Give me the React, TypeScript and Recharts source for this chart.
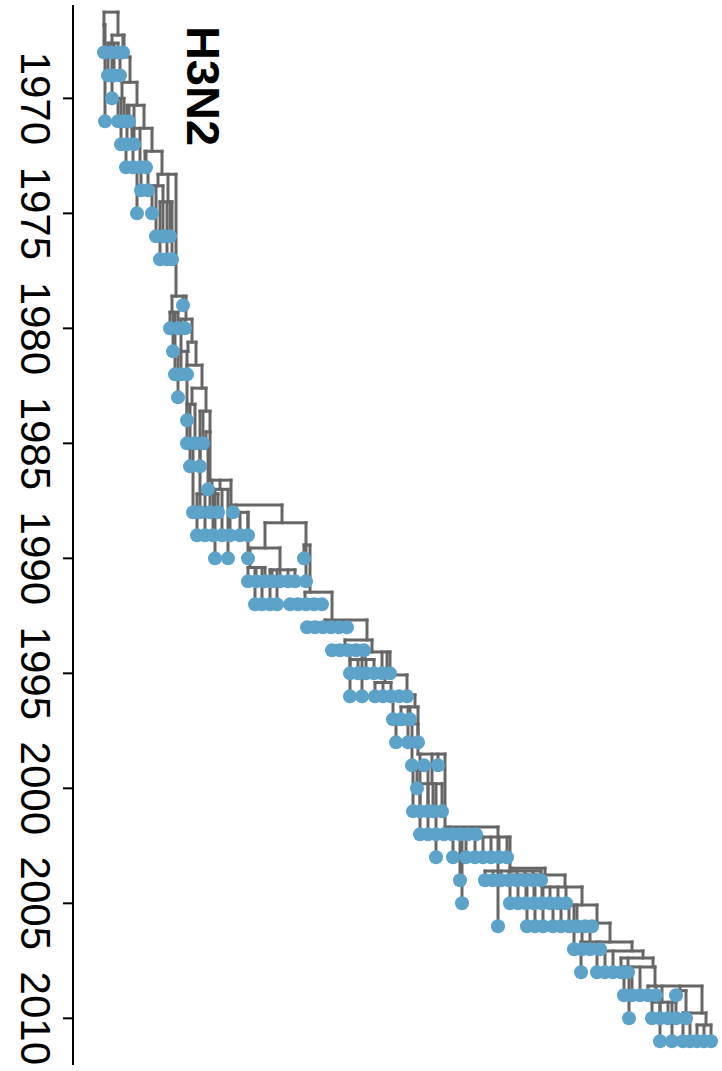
import { ReferenceLine, Scatter, ScatterChart, XAxis, YAxis } from 'recharts';

const yearTicks = [1970, 1975, 1980, 1985, 1990, 1995, 2000, 2005, 2010];

// trunk of the tree: [id, parent, x position, year]
const trunkNodes: [string, string | null, number, number][] = [
  ['t0', null, 109, 1966.25],
  ['t1', 't0', 118, 1967.25],
  ['t2', 't1', 124, 1968.2],
  ['t3', 't2', 130, 1969.3],
  ['t4', 't3', 137, 1970.3],
  ['t5', 't4', 144, 1971.3],
  ['t6', 't5', 152, 1972.3],
  ['t7', 't6', 162, 1973.3],
  ['t8', 't7', 176, 1978.6],
  ['t9', 't8', 186, 1979.6],
  ['t10', 't9', 192, 1980.6],
  ['t11', 't10', 196, 1981.6],
  ['t12', 't11', 202, 1982.6],
  ['t13', 't12', 206, 1983.6],
  ['t14', 't13', 210, 1984.5],
  ['t15', 't14', 210, 1986.6],
  ['t16', 't15', 231, 1987.68],
  ['t17', 't16', 282, 1988.45],
  ['t18', 't17', 306, 1989.42],
  ['t19', 't18', 310, 1991.47],
  ['t20', 't19', 332, 1992.68],
  ['t21', 't20', 367, 1993.55],
  ['t22', 't21', 372, 1994.07],
  ['t23', 't22', 387, 1995.07],
  ['t24', 't23', 407, 1995.94],
  ['t25', 't24', 415, 1996.46],
  ['t26', 't25', 418, 1998.51],
  ['t27', 't26', 445, 2001.68],
  ['t28', 't27', 498, 2002.12],
  ['t29', 't28', 510, 2003.47],
  ['t30', 't29', 545, 2003.77],
  ['t31', 't30', 565, 2004.29],
  ['t32', 't31', 582, 2005.07],
  ['t33', 't32', 597, 2005.86],
  ['t34', 't33', 610, 2006.68],
  ['t35', 't34', 632, 2007.07],
  ['t36', 't35', 643, 2007.38],
  ['t37', 't36', 653, 2007.77],
  ['t38', 't37', 655, 2008.6],
  ['t39', 't38', 702, 2009.77],
  ['t40', 't39', 706, 2010.29],
];

// side clades hanging off the trunk
const cladeNodes: [string, string, number, number][] = [
  ['a', 't0', 104, 1966.8],
  ['b', 't1', 112, 1967.6],
  ['c', 't3', 122, 1970.0],
  ['d', 't5', 132, 1971.9],
  ['e', 't6', 145, 1973.0],
  ['f', 't7', 158, 1973.8],
  ['g', 't7', 168, 1974.5],
  ['h', 't8', 172, 1979.3],
  ['i', 't10', 188, 1981.0],
  ['j', 't12', 192, 1983.3],
  ['k', 't14', 206, 1985.2],
  ['l', 't15', 212, 1987.2],
  ['m', 't15', 220, 1987.0],
  ['n', 't16', 236, 1988.0],
  ['o', 't17', 265, 1989.55],
  ['o1', 'o', 250, 1990.4],
  ['o2', 'o', 280, 1990.5],
  ['p', 't19', 305, 1991.8],
  ['q', 't20', 325, 1992.8],
  ['r', 't21', 345, 1993.8],
  ['s', 't22', 365, 1994.4],
  ['u', 't23', 385, 1995.4],
  ['v', 't25', 408, 1997.2],
  ['x1', 't26', 420, 1999.2],
  ['x2', 't26', 432, 1999.8],
  ['y', 't27', 450, 2001.9],
  ['z', 't29', 512, 2003.6],
  ['aa', 't38', 680, 2008.8],
  ['ab', 't38', 662, 2009.3],
];

// sampled strains: [parent, year, x positions]
const tipGroups: [string, number, number[]][] = [
  ['a', 1968, [104]],
  ['a', 1971, [105]],
  ['b', 1968, [111, 118]],
  ['t1', 1968, [123]],
  ['b', 1969, [108, 114]],
  ['t2', 1969, [120]],
  ['b', 1970, [112]],
  ['c', 1971, [118, 124]],
  ['t4', 1971, [129]],
  ['c', 1972, [121]],
  ['t4', 1972, [127, 134]],
  ['d', 1973, [126, 133]],
  ['t5', 1973, [140]],
  ['t6', 1973, [146]],
  ['e', 1974, [141, 148]],
  ['e', 1975, [137]],
  ['f', 1975, [152]],
  ['f', 1976, [156, 163]],
  ['g', 1976, [170]],
  ['g', 1977, [160, 167, 172]],
  ['t8', 1979, [183]],
  ['h', 1980, [170, 178]],
  ['t9', 1980, [185]],
  ['h', 1981, [173]],
  ['h', 1982, [175]],
  ['t9', 1982, [181]],
  ['i', 1982, [187]],
  ['i', 1983, [178]],
  ['t11', 1984, [187]],
  ['j', 1985, [187, 195]],
  ['t13', 1985, [203]],
  ['j', 1986, [190]],
  ['t13', 1986, [200]],
  ['k', 1987, [208]],
  ['k', 1988, [193, 200]],
  ['l', 1988, [210, 218]],
  ['n', 1988, [233]],
  ['l', 1989, [197, 205]],
  ['m', 1989, [213, 222]],
  ['n', 1989, [230, 240, 248]],
  ['m', 1990, [215, 228]],
  ['n', 1990, [248]],
  ['t18', 1990, [304]],
  ['o1', 1991, [248, 256, 265]],
  ['o2', 1991, [272, 280, 288, 295]],
  ['t18', 1991, [306]],
  ['o1', 1992, [255, 262]],
  ['o2', 1992, [270, 277]],
  ['p', 1992, [290, 298, 306, 314, 322]],
  ['q', 1993, [307, 315, 323, 331, 339, 347]],
  ['r', 1994, [332, 340, 348, 356, 364]],
  ['s', 1995, [350, 358, 366, 374]],
  ['t22', 1995, [382, 390]],
  ['r', 1996, [350, 362]],
  ['u', 1996, [375, 383, 391]],
  ['t24', 1996, [399, 407]],
  ['t24', 1997, [393]],
  ['t25', 1997, [401, 410]],
  ['v', 1998, [396, 408, 418]],
  ['v', 1999, [412]],
  ['x1', 1999, [424]],
  ['t26', 1999, [438]],
  ['x1', 2000, [417]],
  ['x1', 2001, [413, 420, 428]],
  ['x2', 2001, [433, 442]],
  ['x2', 2002, [420, 428, 436]],
  ['y', 2002, [444, 452, 460, 468, 476]],
  ['y', 2003, [436, 453, 466]],
  ['t28', 2003, [475, 483, 491, 499, 507]],
  ['y', 2004, [460]],
  ['z', 2004, [485, 493, 501, 509, 517, 525, 533, 541]],
  ['y', 2005, [462]],
  ['t30', 2005, [510, 518, 526, 534]],
  ['t31', 2005, [542, 550, 558, 566]],
  ['t28', 2006, [498]],
  ['t30', 2006, [527, 535, 543]],
  ['t32', 2006, [553, 561, 569, 577]],
  ['t33', 2006, [585, 592]],
  ['t32', 2007, [574]],
  ['t33', 2007, [582, 590]],
  ['t34', 2007, [600]],
  ['t34', 2008, [581, 597]],
  ['t35', 2008, [605, 613]],
  ['t36', 2008, [621, 628]],
  ['t37', 2009, [624, 632, 640]],
  ['t38', 2009, [648, 656]],
  ['aa', 2009, [676]],
  ['t37', 2010, [629]],
  ['ab', 2010, [652, 660, 668, 676]],
  ['aa', 2010, [686]],
  ['ab', 2011, [660, 672]],
  ['t39', 2011, [683, 690]],
  ['t40', 2011, [697, 704, 711]],
];

const BLUE = '#5DA2C8';
const GREY = '#666666';
const FONT = '"Liberation Sans", Arial, Helvetica, sans-serif';

type Node = { id: string; parent: string | null; x: number; year: number };

const inner: Node[] = [...trunkNodes, ...cladeNodes].map(([id, parent, x, year]) => ({
  id,
  parent,
  x,
  year,
}));
const byId = new Map(inner.map((n) => [n.id, n]));
const tips = tipGroups.flatMap(([parent, year, xs]) => xs.map((x) => ({ parent, x, year })));

// elbow branches: a vertical drop for every node, a horizontal bar at each split
const branches: { x1: number; y1: number; x2: number; y2: number }[] = [];
[...inner, ...tips].forEach((n) => {
  if (!n.parent) return;
  const p = byId.get(n.parent)!;
  branches.push({ x1: n.x, y1: p.year, x2: n.x, y2: n.year });
});
inner.forEach((n) => {
  const xs = [
    n.x,
    ...inner.filter((c) => c.parent === n.id).map((c) => c.x),
    ...tips.filter((t) => t.parent === n.id).map((t) => t.x),
  ];
  branches.push({ x1: Math.min(...xs), y1: n.year, x2: Math.max(...xs), y2: n.year });
});

function YearTick(props: any) {
  const { x, y, payload } = props;
  const cx = x - 26;
  return (
    <text
      x={cx}
      y={y}
      transform={`rotate(90 ${cx} ${y})`}
      textAnchor="middle"
      dominantBaseline="central"
      fontSize={42}
      fontFamily={FONT}
      fill="#000"
    >
      {payload.value}
    </text>
  );
}

function TipDot(props: any) {
  return <circle cx={props.cx} cy={props.cy} r={7} fill={BLUE} />;
}

export default function App() {
  return (
    <div style={{ position: 'absolute', left: 0, top: 0, width: 722, height: 1071 }}>
      <ScatterChart width={722} height={1071} margin={{ top: 5, right: 0, bottom: 6, left: 0 }}>
        <XAxis type="number" dataKey="x" domain={[73, 722]} hide allowDataOverflow />
        <YAxis
          type="number"
          dataKey="year"
          domain={[1965.94, 2012.03]}
          reversed
          allowDataOverflow
          ticks={yearTicks}
          interval={0}
          width={73}
          tickSize={10}
          tick={YearTick}
          axisLine={{ stroke: '#000', strokeWidth: 2 }}
          tickLine={{ stroke: '#000', strokeWidth: 2 }}
        />
        {branches.map((b, i) => (
          <ReferenceLine
            key={i}
            segment={[
              { x: b.x1, y: b.y1 },
              { x: b.x2, y: b.y2 },
            ]}
            stroke={GREY}
            strokeWidth={3}
            strokeLinecap="square"
            ifOverflow="visible"
          />
        ))}
        <Scatter data={tips} fill={BLUE} shape={TipDot} isAnimationActive={false} />
      </ScatterChart>
      <svg
        width={722}
        height={1071}
        style={{ position: 'absolute', left: 0, top: 0, pointerEvents: 'none' }}
      >
        <text
          x={203}
          y={86}
          transform="rotate(90 203 86)"
          textAnchor="middle"
          dominantBaseline="central"
          fontSize={47}
          fontWeight="bold"
          fontFamily={FONT}
          fill="#000"
        >
          H3N2
        </text>
      </svg>
    </div>
  );
}
